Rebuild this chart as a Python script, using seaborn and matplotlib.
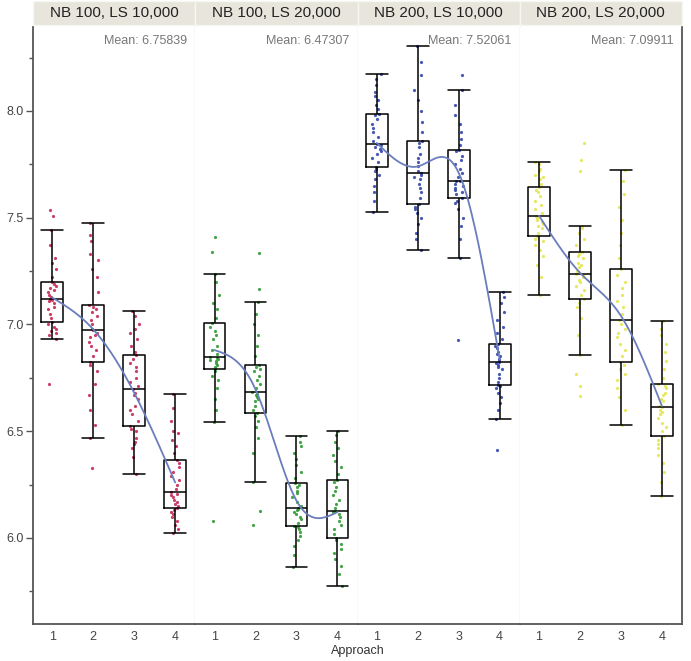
import numpy as np
import pandas as pd
import matplotlib
matplotlib.use("Agg")
import matplotlib.pyplot as plt
from matplotlib.patches import Rectangle
import seaborn as sns

# ---------------- data ----------------
panel_titles = ["NB 100, LS 10,000", "NB 100, LS 20,000", "NB 200, LS 10,000", "NB 200, LS 20,000"]
mean_labels = ["Mean: 6.75839", "Mean: 6.47307", "Mean: 7.52061", "Mean: 7.09911"]
approaches = ["1", "2", "3", "4"]
point_colors = ["#c42a55", "#2f9a35", "#3346ad", "#e4e650"]

# NB 100, LS 10,000
p1_a1 = [6.72, 6.93, 6.95, 6.96, 6.97, 6.98, 6.99, 7.00, 7.011, 7.03, 7.05, 7.07, 7.08, 7.10, 7.11, 7.115, 7.121,
         7.13, 7.14, 7.15, 7.16, 7.17, 7.18, 7.19, 7.198, 7.22, 7.26, 7.29, 7.31, 7.37, 7.44, 7.506, 7.537]
p1_a2 = [6.326, 6.47, 6.53, 6.60, 6.67, 6.72, 6.78, 6.81, 6.826, 6.85, 6.88, 6.90, 6.92, 6.94, 6.95, 6.96, 6.972,
         6.98, 7.00, 7.02, 7.04, 7.06, 7.07, 7.08, 7.092, 7.15, 7.22, 7.26, 7.30, 7.33, 7.39, 7.42, 7.475]
p1_a3 = [6.30, 6.38, 6.42, 6.44, 6.45, 6.47, 6.50, 6.51, 6.522, 6.55, 6.58, 6.60, 6.62, 6.65, 6.67, 6.68, 6.696,
         6.71, 6.73, 6.75, 6.78, 6.80, 6.82, 6.84, 6.855, 6.87, 6.90, 6.93, 6.96, 6.98, 7.00, 7.04, 7.065]
p1_a4 = [6.023, 6.04, 6.06, 6.08, 6.10, 6.11, 6.12, 6.13, 6.14, 6.15, 6.16, 6.17, 6.18, 6.19, 6.20, 6.205, 6.213,
         6.23, 6.25, 6.27, 6.29, 6.31, 6.33, 6.35, 6.366, 6.40, 6.43, 6.46, 6.49, 6.50, 6.55, 6.61, 6.673]
# NB 100, LS 20,000
p2_a1 = [6.08, 6.542, 6.60, 6.65, 6.70, 6.74, 6.76, 6.78, 6.79, 6.80, 6.81, 6.82, 6.83, 6.835, 6.84, 6.845, 6.849,
         6.86, 6.88, 6.90, 6.93, 6.95, 6.97, 6.99, 7.005, 7.03, 7.07, 7.10, 7.14, 7.20, 7.237, 7.34, 7.41]
p2_a2 = [6.062, 6.126, 6.26, 6.40, 6.47, 6.52, 6.55, 6.57, 6.587, 6.60, 6.62, 6.64, 6.65, 6.66, 6.67, 6.675, 6.683,
         6.70, 6.72, 6.74, 6.76, 6.78, 6.79, 6.80, 6.808, 6.85, 6.90, 6.95, 7.00, 7.05, 7.104, 7.164, 7.335]
p2_a3 = [5.866, 5.92, 5.96, 5.99, 6.01, 6.03, 6.04, 6.05, 6.057, 6.07, 6.09, 6.10, 6.11, 6.12, 6.13, 6.135, 6.139,
         6.15, 6.17, 6.19, 6.21, 6.22, 6.24, 6.25, 6.257, 6.28, 6.31, 6.34, 6.37, 6.40, 6.43, 6.45, 6.477]
p2_a4 = [5.775, 5.83, 5.87, 5.90, 5.93, 5.95, 5.97, 5.99, 5.999, 6.02, 6.04, 6.06, 6.08, 6.10, 6.11, 6.12, 6.128,
         6.14, 6.16, 6.18, 6.20, 6.22, 6.24, 6.26, 6.272, 6.30, 6.33, 6.36, 6.39, 6.42, 6.45, 6.48, 6.50]
# NB 200, LS 10,000
p3_a1 = [7.528, 7.58, 7.62, 7.65, 7.68, 7.70, 7.72, 7.73, 7.737, 7.76, 7.78, 7.80, 7.81, 7.82, 7.83, 7.84, 7.847,
         7.86, 7.88, 7.90, 7.92, 7.94, 7.96, 7.98, 7.986, 8.01, 8.03, 8.05, 8.07, 8.09, 8.12, 8.15, 8.174]
p3_a2 = [7.349, 7.40, 7.43, 7.47, 7.50, 7.52, 7.54, 7.55, 7.562, 7.59, 7.62, 7.64, 7.66, 7.68, 7.69, 7.70, 7.709,
         7.72, 7.74, 7.76, 7.78, 7.80, 7.83, 7.85, 7.86, 7.90, 7.95, 8.00, 8.05, 8.10, 8.17, 8.23, 8.304]
p3_a3 = [6.927, 7.312, 7.40, 7.46, 7.50, 7.54, 7.57, 7.58, 7.592, 7.61, 7.62, 7.63, 7.64, 7.65, 7.66, 7.67, 7.673,
         7.69, 7.71, 7.73, 7.75, 7.77, 7.79, 7.81, 7.818, 7.84, 7.87, 7.90, 7.94, 7.98, 8.03, 8.097, 8.17]
p3_a4 = [6.41, 6.559, 6.60, 6.63, 6.66, 6.68, 6.70, 6.71, 6.714, 6.73, 6.75, 6.77, 6.79, 6.80, 6.81, 6.82, 6.826,
         6.83, 6.84, 6.85, 6.86, 6.87, 6.89, 6.90, 6.907, 6.93, 6.96, 6.99, 7.02, 7.06, 7.10, 7.13, 7.15]
# NB 200, LS 20,000
p4_a1 = [7.14, 7.22, 7.28, 7.32, 7.35, 7.37, 7.39, 7.40, 7.413, 7.43, 7.45, 7.46, 7.47, 7.48, 7.49, 7.50, 7.509,
         7.52, 7.54, 7.56, 7.58, 7.60, 7.62, 7.63, 7.643, 7.66, 7.68, 7.69, 7.70, 7.72, 7.73, 7.75, 7.76]
p4_a2 = [6.665, 6.71, 6.766, 6.858, 6.95, 7.03, 7.08, 7.10, 7.121, 7.14, 7.16, 7.18, 7.20, 7.21, 7.22, 7.23, 7.237,
         7.25, 7.27, 7.28, 7.29, 7.31, 7.32, 7.33, 7.34, 7.37, 7.40, 7.43, 7.45, 7.463, 7.72, 7.77, 7.85]
p4_a3 = [6.531, 6.60, 6.66, 6.70, 6.74, 6.77, 6.79, 6.81, 6.826, 6.85, 6.88, 6.91, 6.94, 6.96, 6.98, 7.00, 7.023,
         7.05, 7.08, 7.11, 7.14, 7.17, 7.20, 7.23, 7.26, 7.31, 7.37, 7.43, 7.49, 7.55, 7.61, 7.67, 7.724]
p4_a4 = [6.198, 6.26, 6.31, 6.35, 6.39, 6.42, 6.44, 6.46, 6.477, 6.50, 6.52, 6.54, 6.56, 6.58, 6.59, 6.60, 6.611,
         6.62, 6.64, 6.65, 6.67, 6.68, 6.70, 6.71, 6.72, 6.75, 6.79, 6.83, 6.87, 6.91, 6.95, 6.98, 7.015]

# smoother values at each approach
smooth_p1 = [7.126, 6.977, 6.68, 6.26]
smooth_p2 = [6.88, 6.696, 6.175, 6.121]
smooth_p3 = [7.85, 7.74, 7.71, 6.836]
smooth_p4 = [7.509, 7.242, 7.04, 6.618]

panels = [
    [p1_a1, p1_a2, p1_a3, p1_a4],
    [p2_a1, p2_a2, p2_a3, p2_a4],
    [p3_a1, p3_a2, p3_a3, p3_a4],
    [p4_a1, p4_a2, p4_a3, p4_a4],
]
smooths = [smooth_p1, smooth_p2, smooth_p3, smooth_p4]


def natural_spline(yv, n=200):
    yv = np.asarray(yv, float)
    k = len(yv)
    A = np.zeros((k, k))
    b = np.zeros(k)
    A[0, 0] = 1
    A[-1, -1] = 1
    for i in range(1, k - 1):
        A[i, i - 1:i + 2] = [1, 4, 1]
        b[i] = 6 * (yv[i + 1] - 2 * yv[i] + yv[i - 1])
    M = np.linalg.solve(A, b)
    xs = np.linspace(0, k - 1, n)
    ys = []
    for x in xs:
        i = min(int(np.floor(x)), k - 2)
        t = x - i
        s = ((1 - t) * yv[i] + t * yv[i + 1]
             + ((1 - t) ** 3 - (1 - t)) * M[i] / 6 + (t ** 3 - t) * M[i + 1] / 6)
        ys.append(s)
    return xs, np.array(ys)


# ---------------- figure ----------------
sns.set_style("white")
plt.rcParams["font.family"] = ["Liberation Sans", "DejaVu Sans"]

W, H = 691, 661
fig = plt.figure(figsize=(W / 100, H / 100), dpi=100)

left_px, right_px, top_px, bottom_px = 33, 682, 27, 624
pw = (right_px - left_px) / 4
ymin, ymax = 5.597, 8.393

for p in range(4):
    ax = fig.add_axes([(left_px + p * pw) / W, (H - bottom_px) / H, pw / W, (bottom_px - top_px) / H])
    rows = []
    for a, vals in zip(approaches, panels[p]):
        for v in vals:
            rows.append((a, v))
    df = pd.DataFrame(rows, columns=["Approach", "value"])

    sns.stripplot(data=df, x="Approach", y="value", order=approaches, jitter=0.11, size=2.3,
                  color=point_colors[p], linewidth=0, alpha=0.9, ax=ax, zorder=2)
    sns.boxplot(data=df, x="Approach", y="value", order=approaches, width=0.53, showfliers=False,
                fill=False, color="black", linewidth=1.1, whis=1.5, capwidths=0.53, ax=ax, zorder=3)
    xs, ys = natural_spline(smooths[p])
    sns.lineplot(x=xs, y=ys, sort=False, color="#6a7dbd", linewidth=1.3, ax=ax, zorder=4)

    ax.set_xlim(-0.47, 3.49)
    ax.set_ylim(ymin, ymax)
    ax.set_xlabel("")
    ax.set_ylabel("")
    ax.tick_params(axis="x", length=0, pad=5, labelsize=9, labelcolor="#444444")

    ax.spines["top"].set_visible(False)
    ax.spines["bottom"].set_color("#555555")
    ax.spines["bottom"].set_linewidth(1.3)
    if p < 3:
        ax.spines["right"].set_color("#dddddd")
        ax.spines["right"].set_linewidth(1.0)
    else:
        ax.spines["right"].set_color("#555555")
        ax.spines["right"].set_linewidth(1.3)
    if p == 0:
        ax.spines["left"].set_color("#555555")
        ax.spines["left"].set_linewidth(1.3)
        ax.set_yticks([6.0, 6.5, 7.0, 7.5, 8.0])
        ax.set_yticklabels(["6.0", "6.5", "7.0", "7.5", "8.0"])
        ax.set_yticks([5.75, 6.25, 6.75, 7.25, 7.75, 8.25], minor=True)
        ax.tick_params(axis="y", which="major", length=5, width=1, color="#555555",
                       labelsize=9, labelcolor="#444444", pad=2, left=True)
        ax.tick_params(axis="y", which="minor", length=3, width=1, color="#555555", left=True)
    else:
        ax.spines["left"].set_visible(False)
        ax.set_yticks([])

    # header strip
    ax.add_patch(Rectangle((0, 1 + 2 / 597), 1, 24 / 597, transform=ax.transAxes, clip_on=False,
                           facecolor="#e8e6dc", edgecolor="#f7f7f2", linewidth=1.0, zorder=5))
    ax.text(0.5, 1 + 14 / 597, panel_titles[p], transform=ax.transAxes, ha="center", va="center",
            fontsize=11, color="#222222", zorder=7, clip_on=False)
    ax.text(1 - 8 / pw, 1 - 14 / 597, mean_labels[p], transform=ax.transAxes, ha="right", va="center",
            fontsize=9, color="#777777", zorder=6)

fig.text((left_px + right_px) / 2 / W, 1 - 651 / H, "Approach", ha="center", va="center",
         fontsize=9, color="#333333")

fig.savefig("out.png", dpi=100)
